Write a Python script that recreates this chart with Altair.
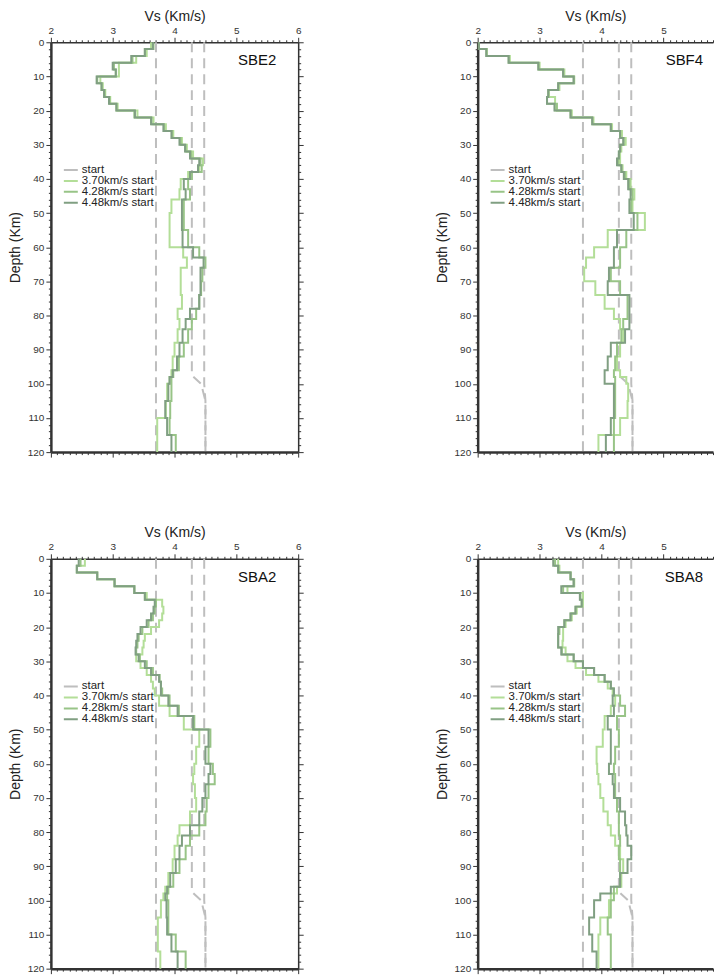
import altair as alt
import pandas as pd

SERIES = ["start", "3.70km/s start", "4.28km/s start", "4.48km/s start"]
COLORS = ["#bebebe", "#b3de98", "#98c487", "#809f82"]

# layer tops (km); last layer extends to 120 km
LAYER_TOP = [0, 2, 4, 6, 8, 10, 12, 14, 16, 18, 20, 22, 24, 26, 28, 30, 32, 34, 36, 38,
             40, 43, 46, 50, 55, 60, 63, 66, 70, 74, 78, 81, 84, 88, 92, 96, 98, 100, 105, 110, 115]
MAX_DEPTH = 120

# start models
START_370_D = [0, 120]
START_370_V = [3.70, 3.70]
START_428_D = [0, 97.5, 100, 105, 120]
START_428_V = [4.28, 4.28, 4.43, 4.50, 4.50]
START_448_D = [0, 100, 105, 120]
START_448_V = [4.48, 4.48, 4.50, 4.50]

SBE2_370 = [3.62, 3.55, 3.38, 3.10, 3.10, 2.80, 2.84, 2.88, 2.96, 3.08, 3.40, 3.66, 3.86, 3.98, 4.12, 4.20, 4.30, 4.46, 4.40, 4.22,
            4.10, 4.08, 3.95, 3.92, 3.92, 4.14, 4.20, 4.10, 4.10, 4.12, 4.05, 4.08, 4.05, 4.00, 3.97, 3.95, 3.92, 3.88, 3.86, 3.72, 3.72]
SBE2_428 = [3.66, 3.52, 3.32, 3.02, 3.05, 2.75, 2.82, 2.87, 2.95, 3.06, 3.35, 3.63, 3.83, 3.96, 4.10, 4.18, 4.27, 4.42, 4.44, 4.28,
            4.22, 4.25, 4.15, 4.15, 4.22, 4.40, 4.50, 4.45, 4.43, 4.40, 4.35, 4.28, 4.22, 4.15, 4.07, 3.98, 3.95, 3.95, 3.93, 3.92, 4.02]
SBE2_448 = [3.65, 3.52, 3.30, 3.00, 3.05, 2.74, 2.82, 2.86, 2.94, 3.06, 3.36, 3.62, 3.82, 3.95, 4.08, 4.17, 4.25, 4.40, 4.38, 4.25,
            4.15, 4.18, 4.12, 4.12, 4.13, 4.30, 4.47, 4.42, 4.42, 4.40, 4.25, 4.18, 4.13, 4.08, 4.04, 3.97, 3.92, 3.90, 3.85, 3.88, 3.95]

SBF4_370 = [2.02, 2.15, 2.52, 3.00, 3.40, 3.56, 3.32, 3.15, 3.25, 3.25, 3.52, 3.87, 4.17, 4.33, 4.39, 4.32, 4.30, 4.30, 4.34, 4.40,
            4.47, 4.53, 4.50, 4.70, 4.10, 3.88, 3.75, 3.72, 3.90, 4.05, 4.20, 4.30, 4.35, 4.30, 4.25, 4.30, 4.40, 4.43, 4.42, 4.30, 3.95]
SBF4_428 = [2.02, 2.14, 2.50, 2.98, 3.38, 3.55, 3.30, 3.14, 3.12, 3.28, 3.50, 3.85, 4.15, 4.30, 4.36, 4.30, 4.28, 4.27, 4.32, 4.38,
            4.45, 4.50, 4.48, 4.58, 4.40, 4.30, 4.30, 4.15, 4.30, 4.42, 4.42, 4.35, 4.32, 4.25, 4.22, 4.20, 4.22, 4.22, 4.22, 4.20, 4.20]
SBF4_448 = [2.02, 2.14, 2.50, 2.98, 3.38, 3.55, 3.30, 3.14, 3.12, 3.24, 3.50, 3.85, 4.15, 4.30, 4.35, 4.30, 4.28, 4.25, 4.32, 4.36,
            4.43, 4.47, 4.45, 4.52, 4.25, 4.20, 4.20, 4.12, 4.10, 4.45, 4.45, 4.45, 4.38, 4.15, 4.10, 4.05, 4.05, 4.20, 4.20, 4.15, 4.07]

SBA2_370 = [2.55, 2.42, 2.75, 3.03, 3.35, 3.55, 3.80, 3.82, 3.80, 3.75, 3.62, 3.52, 3.50, 3.48, 3.38, 3.45, 3.55, 3.62, 3.65, 3.68,
            3.75, 3.92, 4.15, 4.40, 4.35, 4.32, 4.30, 4.33, 4.35, 4.25, 4.08, 4.05, 4.00, 3.97, 3.90, 3.85, 3.82, 3.78, 3.73, 3.73, 3.77]
SBA2_428 = [2.48, 2.42, 2.75, 3.03, 3.35, 3.52, 3.70, 3.68, 3.65, 3.58, 3.48, 3.42, 3.40, 3.38, 3.44, 3.55, 3.65, 3.76, 3.78, 3.80,
            3.92, 4.07, 4.32, 4.58, 4.55, 4.62, 4.65, 4.55, 4.52, 4.50, 4.40, 4.25, 4.18, 4.08, 3.98, 3.90, 3.88, 3.90, 3.90, 4.02, 4.18]
SBA2_448 = [2.45, 2.42, 2.75, 3.03, 3.35, 3.52, 3.68, 3.66, 3.62, 3.55, 3.45, 3.40, 3.38, 3.37, 3.42, 3.52, 3.62, 3.75, 3.78, 3.78,
            3.90, 4.05, 4.30, 4.55, 4.50, 4.58, 4.55, 4.50, 4.45, 4.40, 4.25, 4.12, 4.08, 4.02, 3.93, 3.88, 3.85, 3.87, 3.88, 3.95, 4.05]

SBA8_370 = [3.30, 3.32, 3.50, 3.56, 3.45, 3.70, 3.70, 3.60, 3.52, 3.42, 3.38, 3.38, 3.37, 3.42, 3.45, 3.58, 3.75, 3.95, 4.10, 4.18,
            4.22, 4.15, 4.05, 4.02, 3.92, 3.93, 3.95, 3.98, 4.03, 4.10, 4.15, 4.22, 4.30, 4.35, 4.32, 4.25, 4.15, 4.12, 3.98, 3.95, 3.95]
SBA8_428 = [3.25, 3.30, 3.50, 3.55, 3.38, 3.66, 3.68, 3.58, 3.50, 3.40, 3.32, 3.30, 3.30, 3.36, 3.55, 3.70, 3.88, 4.05, 4.15, 4.20,
            4.30, 4.38, 4.25, 4.28, 4.22, 4.20, 4.22, 4.22, 4.25, 4.28, 4.28, 4.30, 4.28, 4.30, 4.30, 4.20, 4.20, 4.15, 4.10, 4.15, 4.15]
SBA8_448 = [3.22, 3.30, 3.50, 3.55, 3.35, 3.65, 3.68, 3.58, 3.50, 3.40, 3.30, 3.30, 3.30, 3.35, 3.55, 3.70, 3.88, 4.05, 4.15, 4.20,
            4.18, 4.20, 4.10, 4.15, 4.15, 4.12, 4.18, 4.20, 4.30, 4.38, 4.40, 4.42, 4.48, 4.42, 4.30, 4.15, 3.98, 3.88, 3.80, 3.85, 3.92]

# (name, profiles, is the panel cut off at the right edge of the picture)
PANELS = [
    ("SBE2", SBE2_370, SBE2_428, SBE2_448, False),
    ("SBF4", SBF4_370, SBF4_428, SBF4_448, True),
    ("SBA2", SBA2_370, SBA2_428, SBA2_448, False),
    ("SBA8", SBA8_370, SBA8_428, SBA8_448, True),
]

W, H = 248, 411
X_FULL = 6.0
X_CUT = 5.80          # visible part of the right-hand panels
W_CUT = round(W * (X_CUT - 2) / (X_FULL - 2))
FONT = "Liberation Sans"

X_VALUES = [round(2 + 0.1 * i, 1) for i in range(41)]
Y_VALUES = list(range(0, 121, 2))

yscale = alt.Scale(domain=[0, 120], nice=False, zero=False, reverse=True)
cscale = alt.Scale(domain=SERIES, range=COLORS)

X_MAJOR = "abs(datum.value - round(datum.value)) < 0.01"
Y_MAJOR = "datum.value % 10 == 0"

axis_common = dict(grid=False, labelOverlap=False, labelFlush=False, tickColor="#333",
                   domainColor="#333", tickWidth=1, labelFontSize=10, labelColor="#333",
                   labelPadding=2)


def top_axis(vals):
    return alt.Axis(orient="top", values=vals, title="Vs (Km/s)", titleFontSize=14,
                    titlePadding=2, titleFontWeight="normal", titleColor="#222",
                    labelExpr="abs(datum.value - round(datum.value)) < 0.01 ? format(datum.value, 'd') : ''",
                    tickSize={"condition": {"test": X_MAJOR, "value": 5}, "value": 2.5},
                    domainWidth=1.5, **axis_common)


def bottom_axis(vals):
    return alt.Axis(orient="bottom", values=vals, title=None, labels=False,
                    tickSize={"condition": {"test": X_MAJOR, "value": 5}, "value": 2.5},
                    domainWidth=2.5, **axis_common)


left_axis = alt.Axis(orient="left", values=Y_VALUES, title="Depth (Km)", titleFontSize=14,
                     titlePadding=5, titleFontWeight="normal", titleColor="#222",
                     labelExpr="datum.value % 10 == 0 ? format(datum.value, 'd') : ''",
                     tickSize={"condition": {"test": Y_MAJOR, "value": 5}, "value": 2.5},
                     domainWidth=2.5, **axis_common)
right_axis = alt.Axis(orient="right", values=Y_VALUES, title=None, labels=False,
                      tickSize={"condition": {"test": Y_MAJOR, "value": 5}, "value": 2.5},
                      domainWidth=1.5, **axis_common)

legend = alt.Legend(title=None, orient="none", legendX=12, legendY=123, symbolType="stroke",
                    symbolSize=196, symbolStrokeWidth=2, symbolDash=[20, 0], labelFontSize=11.5,
                    labelFont=FONT, labelColor="#222", labelOffset=3, rowPadding=-2, padding=0,
                    symbolOffset=0, clipHeight=10)


def start_frame():
    rows = []
    for name, ds, vs in [("m370", START_370_D, START_370_V),
                         ("m428", START_428_D, START_428_V),
                         ("m448", START_448_D, START_448_V)]:
        for d, v in zip(ds, vs):
            rows.append({"model": name, "series": "start", "depth": d, "v": v})
    return pd.DataFrame(rows)


def profile_frame(v370, v428, v448):
    rows = []
    for sname, vals in [(SERIES[1], v370), (SERIES[2], v428), (SERIES[3], v448)]:
        for d, v in zip(LAYER_TOP, vals):
            rows.append({"series": sname, "depth": d, "v": v})
        rows.append({"series": sname, "depth": MAX_DEPTH, "v": vals[-1]})
    return pd.DataFrame(rows)


def panel(name, v370, v428, v448, cut):
    xmax = X_CUT if cut else X_FULL
    width = W_CUT if cut else W
    vals = [v for v in X_VALUES if v <= xmax + 1e-9]
    xscale = alt.Scale(domain=[2, xmax], nice=False, zero=False)
    starts = alt.Chart(start_frame()).mark_line(strokeDash=[10, 6], strokeWidth=2).encode(
        x=alt.X("v:Q", scale=xscale, axis=top_axis(vals)),
        y=alt.Y("depth:Q", scale=yscale, axis=left_axis),
        color=alt.Color("series:N", scale=cscale, legend=legend),
        detail="model:N",
        order="depth:Q",
    )
    profs = alt.Chart(profile_frame(v370, v428, v448)).mark_line(
        strokeWidth=2, interpolate="step-before").encode(
        x=alt.X("v:Q", scale=xscale, axis=bottom_axis(vals)),
        y=alt.Y("depth:Q", scale=yscale, axis=None if cut else right_axis),
        color=alt.Color("series:N", scale=cscale, legend=legend),
        order="depth:Q",
    )
    label = alt.Chart(pd.DataFrame({"t": [name]})).mark_text(
        font=FONT, fontSize=15, align="right", baseline="middle", color="#111"
    ).encode(text="t:N", x=alt.value(W - 22), y=alt.value(18))
    return alt.layer(starts, profs, label).resolve_axis(
        x="independent", y="independent").properties(width=width, height=H)


panels = [panel(*p) for p in PANELS]
top = alt.hconcat(panels[0], panels[1], spacing=131).resolve_legend(color="independent")
bottom = alt.hconcat(panels[2], panels[3], spacing=131).resolve_legend(color="independent")
chart = alt.vconcat(top, bottom, spacing=68).resolve_legend(color="independent").properties(
    padding=0
).configure(font=FONT).configure_view(stroke=None)

chart.save("out.html", embed_options={"renderer": "svg", "actions": False})
